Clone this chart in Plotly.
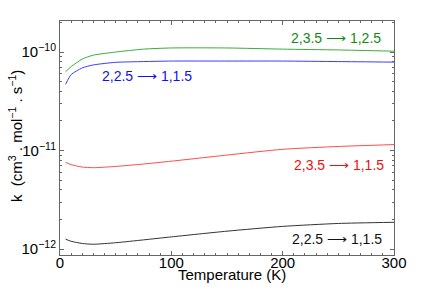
import plotly.graph_objects as go

temps = [5, 10, 20, 30, 50, 75, 100, 150, 200, 250, 300]
k_green = [6.3e-11, 7.1e-11, 8.5e-11, 9.3e-11, 1.0e-10, 1.07e-10, 1.1e-10, 1.1e-10, 1.07e-10, 1.05e-10, 1.02e-10]
k_blue = [4.7e-11, 5.9e-11, 6.9e-11, 7.4e-11, 7.86e-11, 8.0e-11, 8.1e-11, 8.1e-11, 8.1e-11, 8.0e-11, 7.9e-11]
k_red = [7.6e-12, 7.2e-12, 6.8e-12, 6.7e-12, 6.9e-12, 7.3e-12, 7.8e-12, 9.0e-12, 1.03e-11, 1.1e-11, 1.15e-11]
k_black = [1.26e-12, 1.2e-12, 1.14e-12, 1.12e-12, 1.16e-12, 1.24e-12, 1.33e-12, 1.52e-12, 1.7e-12, 1.82e-12, 1.87e-12]

labels = ["2,3.5 ⟶ 1,2.5", "2,2.5 ⟶ 1,1.5", "2,3.5 ⟶ 1,1.5", "2,2.5 ⟶ 1,1.5"]
line_colors = ["#3caa3c", "#3b3bff", "#ff4a4a", "#333333"]
text_colors = ["#128a12", "#1010ee", "#ee1010", "#111111"]

y_tickvals = [1e-12, 1e-11, 1e-10]
y_ticktext = ["10<sup>−12</sup>", "10<sup>−11</sup>", "10<sup>−10</sup>"]
y_minor = [m * 10.0 ** e for e in (-12, -11, -10) for m in range(2, 10)]

W, H = 436, 287
L, R, T, B = 60, 42, 21, 32
pw, ph = W - L - R, H - T - B

def px(x):
    return (x - L) / pw

def py(y):
    return (H - B - y) / ph

fig = go.Figure()
for ys, c in zip([k_green, k_blue, k_red, k_black], line_colors):
    fig.add_trace(go.Scatter(x=temps, y=ys, mode="lines",
                             line=dict(color=c, width=1, shape="spline", smoothing=0.6), showlegend=False))

ann_specs = [(383, 38, "right"), (100, 76, "left"), (386, 165, "right"), (384, 239, "right")]
for lab, tc, (ax, ay, anc) in zip(labels, text_colors, ann_specs):
    fig.add_annotation(xref="paper", yref="paper", x=px(ax), y=py(ay), text=lab, showarrow=False,
                       xanchor=anc, yanchor="middle", font=dict(color=tc, size=14))

fig.add_annotation(xref="paper", yref="paper", x=px(232), y=py(274), text="Temperature (K)",
                   showarrow=False, xanchor="center", yanchor="middle", font=dict(size=15, color="black"))
fig.add_annotation(xref="paper", yref="paper", x=px(15), y=py(136),
                   text="k  (cm<sup>3</sup> . mol<sup>−1</sup> . s<sup>−1</sup>)",
                   showarrow=False, textangle=-90, xanchor="center", yanchor="middle",
                   font=dict(size=15, color="black"))

axis_common = dict(showline=True, linecolor="#666666", linewidth=1, mirror="allticks",
                   ticks="inside", ticklen=4, tickcolor="#666666", showgrid=False, zeroline=False,
                   automargin=False,
                   tickfont=dict(size=15, color="black", family="Liberation Sans, Arial"))

fig.update_xaxes(range=[0, 300], tickvals=[0, 100, 200, 300], ticklabelstandoff=-6,
                 minor=dict(tickvals=list(range(10, 300, 10)), ticks="inside", ticklen=2, tickcolor="#666666"),
                 **axis_common)
fig.update_yaxes(type="log", range=[-12.06, -9.685], tickvals=y_tickvals, ticktext=y_ticktext,
                 minor=dict(tickvals=y_minor, ticks="inside", ticklen=2, tickcolor="#666666"),
                 **axis_common)

fig.update_layout(width=W, height=H, margin=dict(l=L, r=R, t=T, b=B),
                  plot_bgcolor="white", paper_bgcolor="white",
                  font=dict(family="Liberation Sans, Arial", color="black"))
fig.write_html("out.html", config={"displayModeBar": False},
               post_script="document.body.style.margin='0';document.body.style.overflow='hidden';")
